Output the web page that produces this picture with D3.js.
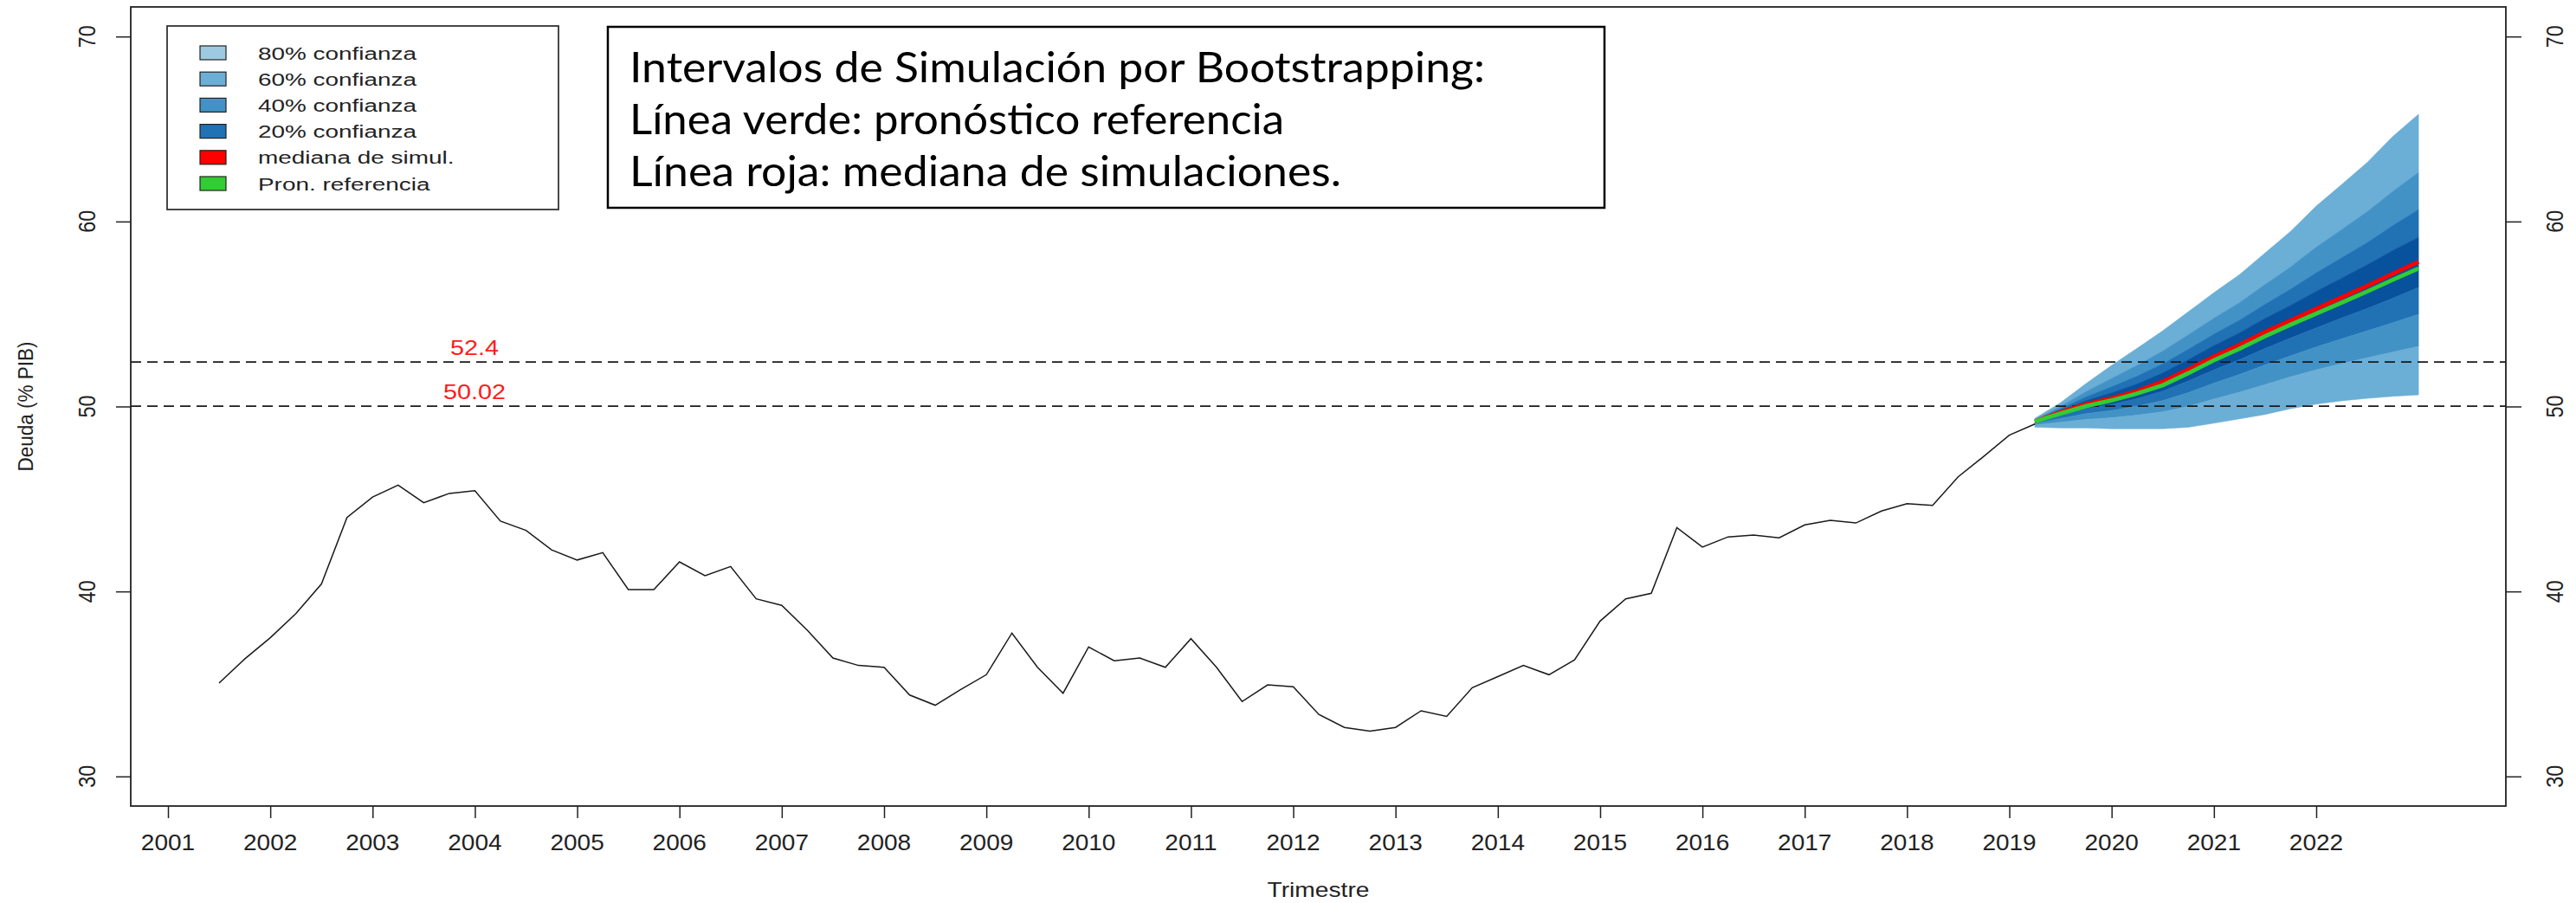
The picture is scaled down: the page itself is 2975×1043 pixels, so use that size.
<!DOCTYPE html>
<html>
<head>
<meta charset="utf-8">
<script src="https://cdn.jsdelivr.net/npm/d3@7"></script>
<style>
  html, body { margin: 0; padding: 0; background: #ffffff; }
  svg { display: block; }
</style>
</head>
<body>
<svg id="chart" width="2975" height="1043"></svg>
<script>
// ---------------- DATA ----------------
const histStart = 2001.5; // first quarter (2001 Q3)
const histValues = [
  35.05, 36.35, 37.5, 38.8, 40.4, 44.0, 45.1, 45.75, 44.8, 45.3,
  45.45, 43.8, 43.3, 42.25, 41.7, 42.1, 40.1, 40.1, 41.6, 40.85,
  41.35, 39.6, 39.25, 37.9, 36.4, 36.0, 35.9, 34.4, 33.85, 34.7,
  35.5, 37.75, 35.9, 34.5, 37.0, 36.25, 36.4, 35.9, 37.45, 35.9,
  34.05, 34.95, 34.85, 33.35, 32.65, 32.45, 32.65, 33.55, 33.25, 34.8,
  35.4, 36.0, 35.5, 36.3, 38.4, 39.6, 39.9, 43.45, 42.4, 42.95,
  43.05, 42.9, 43.6, 43.85, 43.7, 44.35, 44.75, 44.65, 46.2, 47.3,
  48.45, 49.05
];
const fanStart = 2019.25;
const fanMedian = [49.19, 49.69, 50.13, 50.44, 50.83, 51.34, 52.00, 52.70, 53.33, 54.03, 54.65, 55.28, 55.90, 56.52, 57.18, 57.82];
const fanReference = [49.19, 49.62, 50.02, 50.33, 50.70, 51.15, 51.80, 52.50, 53.12, 53.80, 54.42, 55.02, 55.62, 56.22, 56.85, 57.46];
const upper80 = [49.36, 50.20, 51.24, 52.22, 53.15, 54.09, 55.12, 56.15, 57.13, 58.30, 59.47, 60.83, 62.00, 63.20, 64.60, 65.80];
const upper60 = [49.29, 50.00, 50.80, 51.51, 52.22, 52.99, 53.87, 54.77, 55.61, 56.59, 57.54, 58.61, 59.56, 60.53, 61.63, 62.65];
const upper40 = [49.25, 49.87, 50.52, 51.06, 51.64, 52.30, 53.09, 53.91, 54.66, 55.52, 56.34, 57.22, 58.04, 58.86, 59.78, 60.64];
const upper20 = [49.22, 49.78, 50.32, 50.74, 51.22, 51.81, 52.53, 53.29, 53.98, 54.76, 55.47, 56.22, 56.94, 57.66, 58.44, 59.14];
const lower20 = [49.13, 49.52, 49.87, 50.11, 50.42, 50.83, 51.38, 51.98, 52.53, 53.14, 53.70, 54.25, 54.78, 55.30, 55.85, 56.43];
const lower40 = [49.07, 49.35, 49.61, 49.78, 50.02, 50.32, 50.75, 51.26, 51.73, 52.25, 52.74, 53.22, 53.66, 54.09, 54.53, 54.98];
const lower60 = [48.99, 49.15, 49.30, 49.39, 49.53, 49.71, 50.00, 50.40, 50.77, 51.18, 51.60, 51.98, 52.32, 52.63, 52.94, 53.25];
const lower80 = [48.88, 48.84, 48.84, 48.80, 48.80, 48.80, 48.88, 49.10, 49.33, 49.57, 49.88, 50.13, 50.31, 50.44, 50.55, 50.63];
const refLines = [52.4, 50.02];
const refLabels = ["52.4", "50.02"];
const xTickYears = [2001, 2002, 2003, 2004, 2005, 2006, 2007, 2008, 2009, 2010, 2011,
                    2012, 2013, 2014, 2015, 2016, 2017, 2018, 2019, 2020, 2021, 2022];
const yTicks = [30, 40, 50, 60, 70];
const legendLabels = ["80% confianza", "60% confianza", "40% confianza", "20% confianza", "mediana de simul.", "Pron. referencia"];
const legendColors = ["#9ecae1", "#6baed6", "#4292c6", "#2171b5", "#ff0000", "#32cd32"];
const fanColors = ["#6baed6", "#4292c6", "#2171b5", "#08519c"]; // outer -> inner
const titleLines = ["Intervalos de Simulación por Bootstrapping:", "Línea verde: pronóstico referencia", "Línea roja: mediana de simulaciones."];
const xTitle = "Trimestre";
const yTitle = "Deuda (% PIB)";

// ---------------- LAYOUT ----------------
const L = 151, R = 2894, T = 8, B = 931;
const x = d3.scaleLinear().domain([2000.636, 2023.854]).range([L, R]);
const y = d3.scaleLinear().domain([28.4, 71.6]).range([B, T]);

const svg = d3.select("#chart");
const sansFont = "'Liberation Sans', Arial, sans-serif";

const hist = histValues.map((v, i) => ({ t: histStart + i * 0.25, v }));
const fanT = fanMedian.map((_, i) => fanStart + i * 0.25);

// fan bands (outer to inner)
const bands = [
  [upper80, upper60], [upper60, upper40], [upper40, upper20], [upper20, lower20],
  [lower20, lower40], [lower40, lower60], [lower60, lower80]
];
const bandColorIdx = [0, 1, 2, 3, 2, 1, 0];
const area = d3.area().x(d => x(d.t)).y0(d => y(d.lo)).y1(d => y(d.hi)).curve(d3.curveLinear);
bands.forEach((b, j) => {
  const data = fanT.map((t, i) => ({ t, hi: b[0][i], lo: b[1][i] }));
  svg.append("path").datum(data).attr("d", area)
    .attr("fill", fanColors[bandColorIdx[j]]).attr("stroke", fanColors[bandColorIdx[j]]).attr("stroke-width", 0.6);
});

// reference dashed lines
refLines.forEach(v => {
  svg.append("line").attr("x1", L).attr("x2", R).attr("y1", y(v)).attr("y2", y(v))
    .attr("stroke", "#1a1a1a").attr("stroke-width", 1.7).attr("stroke-dasharray", "12,7");
});

// helper for horizontally stretched text
function stext(g, str, px, py, size, sx, anchor, fill, family) {
  g.append("text")
    .attr("transform", `translate(${px},${py}) scale(${sx},1)`)
    .attr("text-anchor", anchor)
    .attr("font-family", family || sansFont)
    .attr("font-size", size)
    .attr("fill", fill || "#222")
    .text(str);
}

// ref labels
refLines.forEach((v, i) => {
  stext(svg, refLabels[i], 548, y(v) - 8, 24, 1.2, "middle", "#ff1a1a");
});

// historical line
const line = d3.line().x(d => x(d.t)).y(d => y(d.v));
svg.append("path").datum(hist).attr("d", line)
  .attr("fill", "none").attr("stroke", "#1a1a1a").attr("stroke-width", 1.5);

// median + reference forecast lines
svg.append("path").datum(fanT.map((t, i) => ({ t, v: fanMedian[i] }))).attr("d", line)
  .attr("fill", "none").attr("stroke", "#ff0000").attr("stroke-width", 4.8);
svg.append("path").datum(fanT.map((t, i) => ({ t, v: fanReference[i] }))).attr("d", line)
  .attr("fill", "none").attr("stroke", "#32cd32").attr("stroke-width", 4.8);

// plot box
svg.append("rect").attr("x", L).attr("y", T).attr("width", R - L).attr("height", B - T)
  .attr("fill", "none").attr("stroke", "#222").attr("stroke-width", 1.8);

// x axis
const xAxis = d3.axisBottom(x).tickValues(xTickYears).tickSize(14).tickFormat("");
const gx = svg.append("g").attr("transform", `translate(0,${B})`).call(xAxis);
gx.select(".domain").remove();
gx.selectAll(".tick line").attr("stroke", "#222").attr("stroke-width", 1.5);
xTickYears.forEach(yr => stext(svg, String(yr), x(yr), 982, 25, 1.12, "middle"));

// y axes (left and right)
const yAxisL = d3.axisLeft(y).tickValues(yTicks).tickSize(17).tickFormat("");
const gyl = svg.append("g").attr("transform", `translate(${L},0)`).call(yAxisL);
gyl.select(".domain").remove();
gyl.selectAll(".tick line").attr("stroke", "#222").attr("stroke-width", 1.5);
const yAxisR = d3.axisRight(y).tickValues(yTicks).tickSize(18).tickFormat("");
const gyr = svg.append("g").attr("transform", `translate(${R},0)`).call(yAxisR);
gyr.select(".domain").remove();
gyr.selectAll(".tick line").attr("stroke", "#222").attr("stroke-width", 1.5);

function vtext(str, px, py, size, len) {
  svg.append("text")
    .attr("transform", `translate(${px},${py}) rotate(-90)`)
    .attr("text-anchor", "middle")
    .attr("font-family", sansFont)
    .attr("font-size", size)
    .attr("fill", "#222")
    .attr("textLength", len).attr("lengthAdjust", "spacingAndGlyphs")
    .text(str);
}
yTicks.forEach(v => {
  vtext(String(v), 110, y(v), 27, 26);
  vtext(String(v), 2960, y(v), 27, 26);
});

// axis titles
stext(svg, xTitle, (L + R) / 2, 1036, 23.5, 1.2, "middle");
vtext(yTitle, 38, (T + B) / 2, 23, 150);

// legend
const lg = svg.append("g");
lg.append("rect").attr("x", 193).attr("y", 30).attr("width", 452).attr("height", 212)
  .attr("fill", "#fff").attr("stroke", "#333").attr("stroke-width", 1.8);
legendLabels.forEach((lab, i) => {
  const cy = 61 + i * 30.2;
  lg.append("rect").attr("x", 231).attr("y", cy - 8).attr("width", 30).attr("height", 16)
    .attr("fill", legendColors[i]).attr("stroke", "#222").attr("stroke-width", 1.2);
  stext(lg, lab, 298, cy + 7.5, 21, 1.33, "start");
});

// title box
const tb = svg.append("g");
tb.append("rect").attr("x", 702).attr("y", 31).attr("width", 1151).attr("height", 209)
  .attr("fill", "#fff").attr("stroke", "#000").attr("stroke-width", 2.5);
const titleWidths = [988, 756, 822];
titleLines.forEach((s, i) => {
  tb.append("text").attr("x", 727).attr("y", 95 + i * 60)
    .attr("font-family", "Lato, 'Open Sans', sans-serif")
    .attr("font-size", 49).attr("fill", "#000")
    .attr("textLength", titleWidths[i]).attr("lengthAdjust", "spacingAndGlyphs")
    .text(s);
});
</script>
</body>
</html>
